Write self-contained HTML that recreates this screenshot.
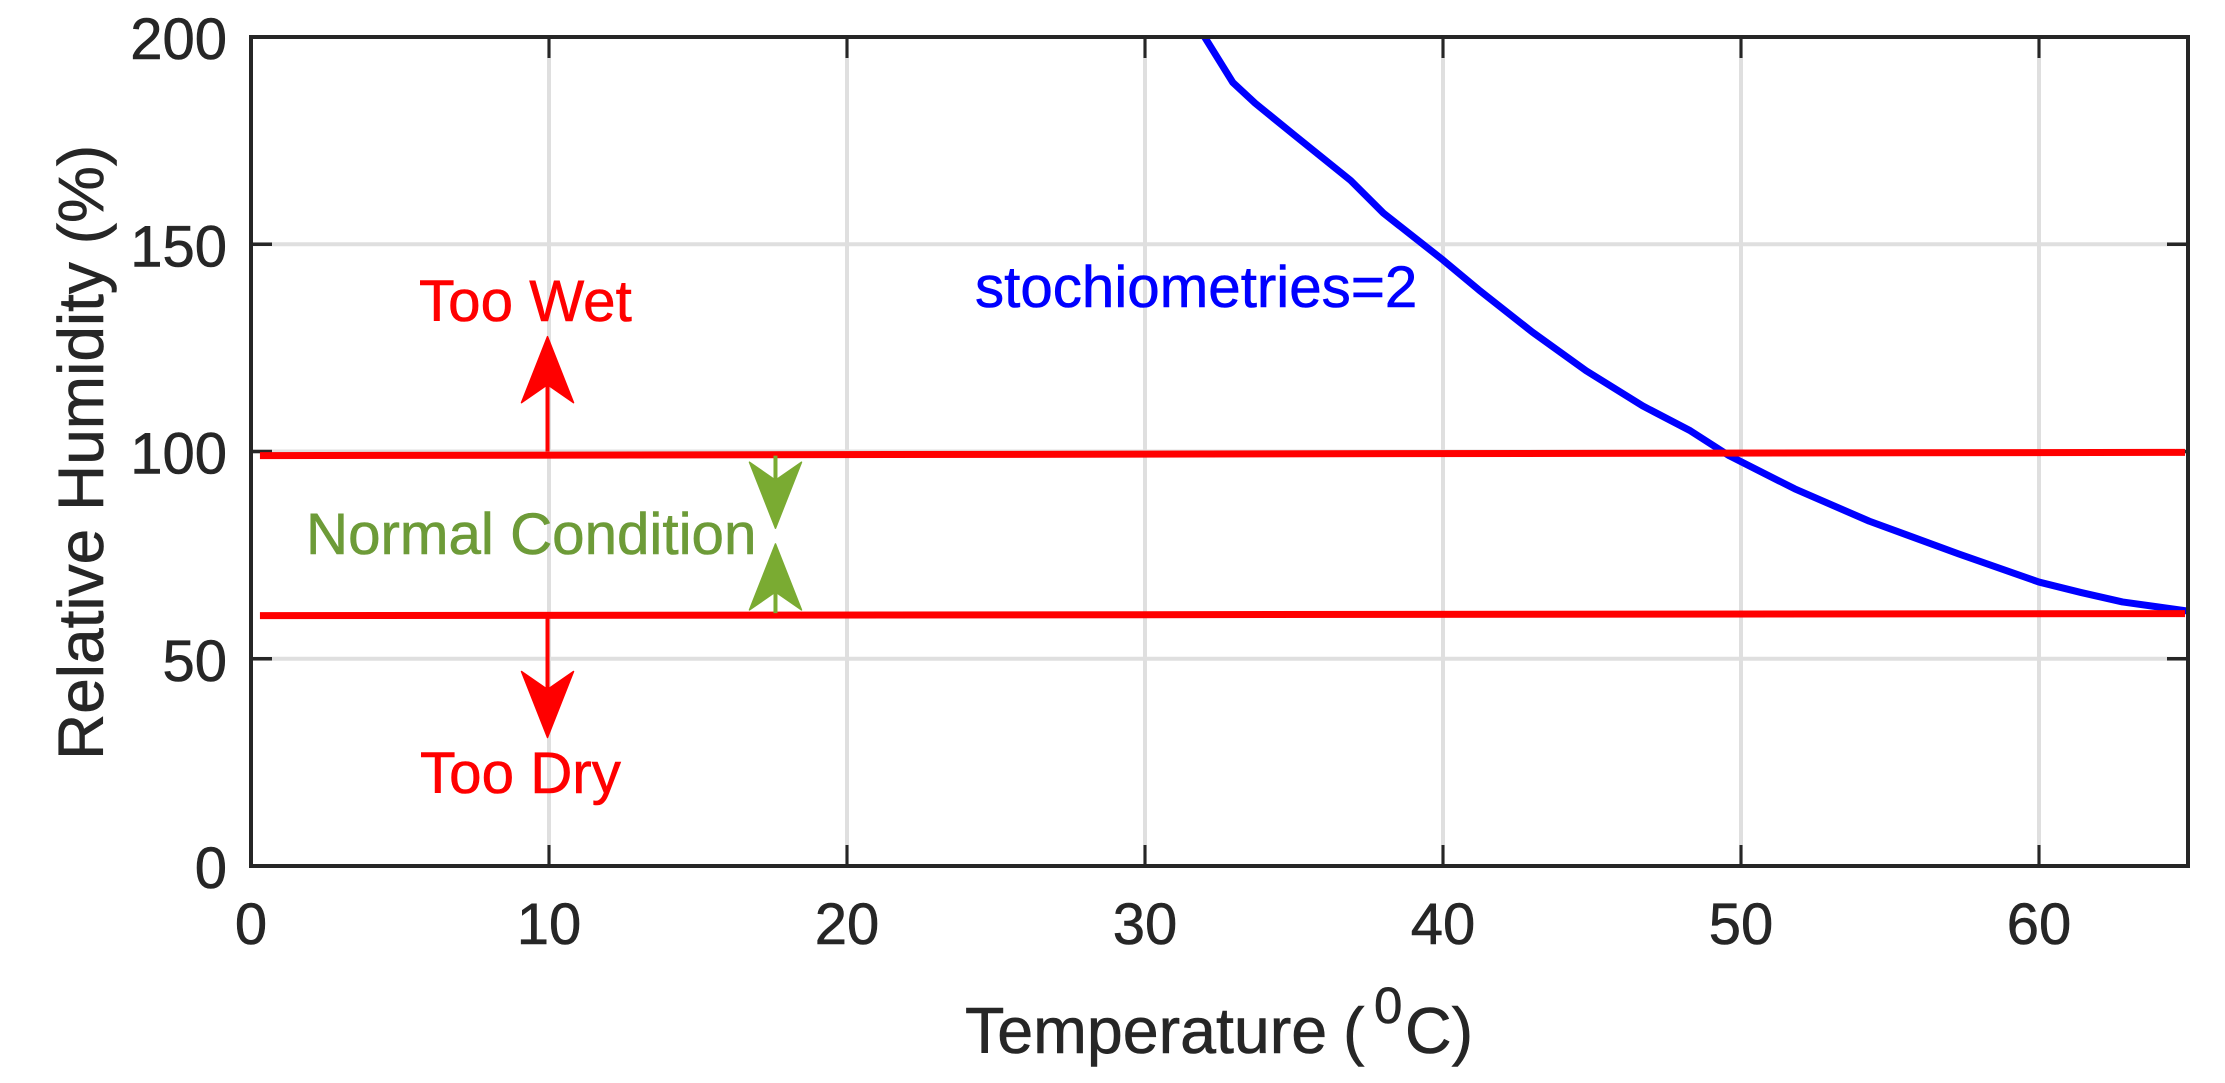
<!DOCTYPE html>
<html>
<head>
<meta charset="utf-8">
<title>Relative Humidity vs Temperature</title>
<style>
html,body{margin:0;padding:0;background:#fff;width:2225px;height:1083px;overflow:hidden}
svg{display:block}
text{font-family:"Liberation Sans",Arial,sans-serif;stroke-width:0.6px;paint-order:stroke}
</style>
</head>
<body>
<svg id="chart" width="2225" height="1083" viewBox="0 0 2225 1083" xmlns="http://www.w3.org/2000/svg"></svg>
<script>
const xTicks = [0, 10, 20, 30, 40, 50, 60];
const yTicks = [0, 50, 100, 150, 200];
const blueTemps = [32, 32.95, 33.7, 35, 36.9, 38, 40, 41.2, 43, 44.8, 46.7, 48.3, 49.6, 51.8, 54.3, 57.3, 60, 61.4, 62.8, 65];
const blueHumidity = [200, 189, 184, 176.4, 165.4, 157.5, 146.2, 139, 128.8, 119.5, 111, 105, 99, 91, 83.2, 75.3, 68.5, 66, 63.7, 61.5];
const upperTemps = [0.3, 64.9];
const upperHumidity = [99, 99.8];
const lowerTemps = [0.3, 64.9];
const lowerHumidity = [60.4, 60.9];
const redUpArrow = [9.95, 100, 127.7];
const redDownArrow = [9.95, 60, 31];
const greenDownArrow = [17.6, 99, 81.5];
const greenUpArrow = [17.6, 61, 77.7];

const NS = 'http://www.w3.org/2000/svg';
const svg = document.getElementById('chart');
const INK = '#262626';
const L = 251, R = 2188, T = 37, B = 866;
const xScale = v => L + (v / 65) * (R - L);
const yScale = v => B - (v / 200) * (B - T);

function make(tag, attrs, text) {
  const el = document.createElementNS(NS, tag);
  for (const k in attrs) el.setAttribute(k, attrs[k]);
  if (text !== undefined) el.textContent = text;
  svg.appendChild(el);
  return el;
}

const bg = make('rect', {x: L, y: T, width: R - L, height: B - T, fill: '#fff'});



xTicks.forEach(v => {
  if (v === 0) return;
  const g = make('line', {x1: xScale(v), x2: xScale(v), y1: T, y2: B, stroke: '#dfdfdf', 'stroke-width': 4});
  
  
});
yTicks.forEach(v => {
  if (v === 0 || v === 200) return;
  const g = make('line', {x1: L, x2: R, y1: yScale(v), y2: yScale(v), stroke: '#dfdfdf', 'stroke-width': 4});
  
  
});

xTicks.forEach(v => {
  if (v === 0) return;
  const t1 = make('line', {x1: xScale(v), x2: xScale(v), y1: B, y2: B - 21, stroke: INK, 'stroke-width': 3});
  
  
  const t2 = make('line', {x1: xScale(v), x2: xScale(v), y1: T, y2: T + 21, stroke: INK, 'stroke-width': 3});
  
  
});
yTicks.forEach(v => {
  if (v === 0 || v === 200) return;
  const t1 = make('line', {x1: L, x2: L + 21, y1: yScale(v), y2: yScale(v), stroke: INK, 'stroke-width': 3.5});
  
  
  const t2 = make('line', {x1: R, x2: R - 21, y1: yScale(v), y2: yScale(v), stroke: INK, 'stroke-width': 3.5});
  
  
});

function polyline(xs, ys, color, width) {
  const pts = xs.map((x, i) => xScale(x) + ',' + yScale(ys[i])).join(' ');
  return make('polyline', {points: pts, fill: 'none', stroke: color, 'stroke-width': width, 'stroke-linejoin': 'round'});
}

const blue = polyline(blueTemps, blueHumidity, '#0000ff', 7);


const upper = polyline(upperTemps, upperHumidity, '#ff0000', 7);


const lower = polyline(lowerTemps, lowerHumidity, '#ff0000', 7);



function arrow(spec, color) {
  const x = xScale(spec[0]), y0 = yScale(spec[1]), tip = yScale(spec[2]);
  const dir = tip < y0 ? 1 : -1;
  const g = document.createElementNS(NS, 'g');
  svg.appendChild(g);
  const shaft = document.createElementNS(NS, 'line');
  shaft.setAttribute('x1', x);
  shaft.setAttribute('x2', x);
  shaft.setAttribute('y1', y0);
  shaft.setAttribute('y2', tip + dir * 40);
  shaft.setAttribute('stroke', color);
  shaft.setAttribute('stroke-width', 4);
  g.appendChild(shaft);
  const head = document.createElementNS(NS, 'polygon');
  head.setAttribute('points', [
    [x, tip],
    [x + 26, tip + dir * 66],
    [x, tip + dir * 48],
    [x - 26, tip + dir * 66]
  ].map(p => p.join(',')).join(' '));
  head.setAttribute('fill', color);
  head.setAttribute('stroke', color);
  head.setAttribute('stroke-width', 1.5);
  head.setAttribute('stroke-linejoin', 'round');
  g.appendChild(head);
  return g;
}

const a1 = arrow(redUpArrow, '#ff0000');


const a2 = arrow(redDownArrow, '#ff0000');


const a3 = arrow(greenDownArrow, '#7aab32');


const a4 = arrow(greenUpArrow, '#7aab32');



const frame = make('rect', {x: L, y: T, width: R - L, height: B - T, fill: 'none', stroke: INK, 'stroke-width': 4});



xTicks.forEach(v => {
  const t = make('text', {x: xScale(v), y: 944, 'text-anchor': 'middle', 'font-size': 58, fill: INK, stroke: INK}, String(v));
  
  
});
yTicks.forEach(v => {
  const t = make('text', {x: 227, y: yScale(v) + 22, 'text-anchor': 'end', 'font-size': 58, fill: INK, stroke: INK}, String(v));
  
  
});
</script>
<script>
(function () {
  const chart = document.getElementById('chart');
  const SVGNS = 'http://www.w3.org/2000/svg';
  function label(x, y, size, color, str, extra) {
    const el = document.createElementNS(SVGNS, 'text');
    el.setAttribute('x', x);
    el.setAttribute('y', y);
    el.setAttribute('font-size', size);
    el.setAttribute('fill', color);
    el.setAttribute('stroke', color);
    if (extra) el.setAttribute('transform', extra);
    el.textContent = str;
    chart.appendChild(el);
    return el;
  }
  const wet = label(419, 321, 58.3, '#ff0000', 'Too Wet');
  
  
  const dry = label(420, 793, 58.3, '#ff0000', 'Too Dry');
  
  
  const normal = label(306, 554, 58.3, '#6d9b38', 'Normal Condition');
  
  
  const stoich = label(975, 307, 58.3, '#0000ff', 'stochiometries=2');
  
  
  const yTitle = label(0, 0, 64, '#262626', 'Relative Humidity (%)', 'translate(103,760) rotate(-90)');
  
  
  const xTitle = label(965, 1053, 64.5, '#262626', 'Temperature ');
  
  
  const open = document.createElementNS(SVGNS, 'tspan');
  open.setAttribute('x', '1343');
  open.textContent = '(';
  xTitle.appendChild(open);
  const sup = document.createElementNS(SVGNS, 'tspan');
  sup.setAttribute('x', '1374');
  sup.setAttribute('y', '1023');
  sup.setAttribute('font-size', '51');
  sup.textContent = '0';
  xTitle.appendChild(sup);
  const tail = document.createElementNS(SVGNS, 'tspan');
  tail.setAttribute('x', '1405');
  tail.setAttribute('y', '1053');
  tail.textContent = 'C)';
  xTitle.appendChild(tail);
})();
</script>
</body>
</html>
